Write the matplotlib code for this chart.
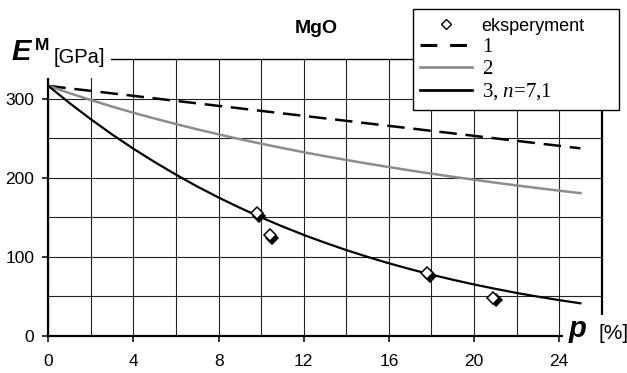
import matplotlib
matplotlib.use("Agg")
import matplotlib.pyplot as plt
from matplotlib.lines import Line2D
from matplotlib.patches import Rectangle
from matplotlib.transforms import offset_copy

plt.rcParams['font.family'] = ['Liberation Sans', 'DejaVu Sans']
plt.rcParams['mathtext.fontset'] = 'custom'
plt.rcParams['mathtext.rm'] = 'Liberation Serif'
plt.rcParams['mathtext.it'] = 'Liberation Serif:italic'

# porosity p [%] and Young's modulus E [GPa]
p_exp = [9.8, 10.4, 17.8, 20.9]
E_exp = [155, 127, 79, 48]

p_model = list(range(0, 26))
E_model1 = [316.0, 312.8, 309.7, 306.5, 303.4, 300.2, 297.0, 293.9, 290.7, 287.6,
            284.4, 281.2, 278.1, 274.9, 271.8, 268.6, 265.4, 262.3, 259.1, 256.0,
            252.8, 249.6, 246.5, 243.3, 240.2, 237.0]
E_model2 = [316.0, 306.8, 298.1, 289.8, 282.0, 274.7, 267.7, 261.0, 254.7, 248.6,
            242.9, 237.4, 232.1, 227.1, 222.3, 217.7, 213.3, 209.0, 205.0, 201.0,
            197.3, 193.6, 190.1, 186.7, 183.5, 180.3]
E_model3 = [316.0, 294.2, 273.8, 254.5, 236.5, 219.6, 203.7, 188.7, 174.8, 161.8,
            149.6, 138.2, 127.5, 117.6, 108.3, 99.7, 91.6, 84.2, 77.2, 70.8,
            64.8, 59.3, 54.1, 49.4, 45.0, 41.0]

x_major = [0, 4, 8, 12, 16, 20, 24]
x_minor = [2, 6, 10, 14, 18, 22]
y_major = [0, 100, 200, 300]
y_minor = [50, 150, 250]

W, H = 627, 373
fig = plt.figure(figsize=(W / 100, H / 100), dpi=100)
ax = fig.add_axes([48.3 / W, 1 - 335.7 / H, (601.7 - 48.3) / W, (335.7 - 59) / H])

ax.set_xlim(0, 26)
ax.set_ylim(0, 350)
ax.set_xticks(x_major)
ax.set_xticks(x_minor, minor=True)
ax.set_yticks(y_major)
ax.set_yticks(y_minor, minor=True)
ax.tick_params(which='major', direction='out', length=4, width=1.1,
               labelsize=12.5, color='black')
ax.tick_params(axis='x', which='major', pad=9)
ax.tick_params(axis='y', which='major', pad=6)
ax.tick_params(which='minor', length=0)
ax.grid(True, which='both', color='#222222', linewidth=0.8)
ax.set_axisbelow(True)

for side in ['left', 'bottom', 'right']:
    ax.spines[side].set_linewidth(1.6)
ax.spines['top'].set_linewidth(1.0)

ax.plot(p_model, E_model1, color='black', lw=1.8, ls=(0, (7, 3.5)), zorder=3)
ax.plot(p_model, E_model2, color='#8c8c8c', lw=1.8, zorder=3)
ax.plot(p_model, E_model3, color='black', lw=1.6, zorder=3)

# experimental points with a small drop shadow
shadow = offset_copy(ax.transData, fig=fig, x=2.5, y=-2.5, units='dots')
ax.plot(p_exp, E_exp, ls='none', marker='D', ms=6.5, mfc='black', mec='black',
        mew=1.1, transform=shadow, zorder=4, clip_on=False)
ax.plot(p_exp, E_exp, ls='none', marker='D', ms=6.5, mfc='white', mec='black',
        mew=1.1, zorder=5, clip_on=False)

handles = [
    Line2D([], [], ls='none', marker='D', ms=5, mfc='white', mec='black', mew=1.0),
    Line2D([], [], color='black', lw=2.2, ls=(0, (5.5, 4.2))),
    Line2D([], [], color='#8c8c8c', lw=2.0),
    Line2D([], [], color='black', lw=2.0),
]
labels = ['eksperyment', '1', '2', '3, $n$=7,1']
leg = ax.legend(handles, labels, loc='upper left',
                bbox_to_anchor=(413 / W, 1 - 107 / H, 206 / W, 98 / H),
                bbox_transform=fig.transFigure, mode='expand', borderaxespad=0,
                fontsize=15, handlelength=2.5, handletextpad=0.45,
                labelspacing=0.12, borderpad=0.35, fancybox=False,
                framealpha=1, edgecolor='black')
leg.get_frame().set_linewidth(1.0)
leg.set_zorder(10)
texts = leg.get_texts()
texts[0].set_fontfamily('Liberation Sans')
texts[0].set_fontsize(13)
for t in texts[1:]:
    t.set_fontfamily('Liberation Serif')

# axis captions sit on white patches that hide the ends of the frame
fig.add_artist(Rectangle((0, 1 - 78 / H), 111 / W, 48 / H, transform=fig.transFigure,
                         facecolor='white', edgecolor='none', zorder=2))
fig.add_artist(Rectangle((563 / W, 1 - 352 / H), 64 / W, 37 / H, transform=fig.transFigure,
                         facecolor='white', edgecolor='none', zorder=2))

fig.text(11 / W, 1 - 60 / H, 'E', fontsize=21, fontweight='bold', fontstyle='italic',
         va='baseline', zorder=3)
fig.text(35 / W, 1 - 50 / H, 'M', fontsize=12.5, fontweight='bold', va='baseline', zorder=3)
fig.text(54 / W, 1 - 63 / H, '[GPa]', fontsize=14.5, va='baseline', zorder=3)
fig.text(569 / W, 1 - 337 / H, 'p', fontsize=21, fontweight='bold', fontstyle='italic',
         va='baseline', zorder=3)
fig.text(598 / W, 1 - 339 / H, '[%]', fontsize=15, va='baseline', zorder=3)
fig.text(316 / W, 1 - 33 / H, 'MgO', fontsize=14, fontweight='bold', ha='center',
         va='baseline')

fig.savefig('out.png', dpi=100)
